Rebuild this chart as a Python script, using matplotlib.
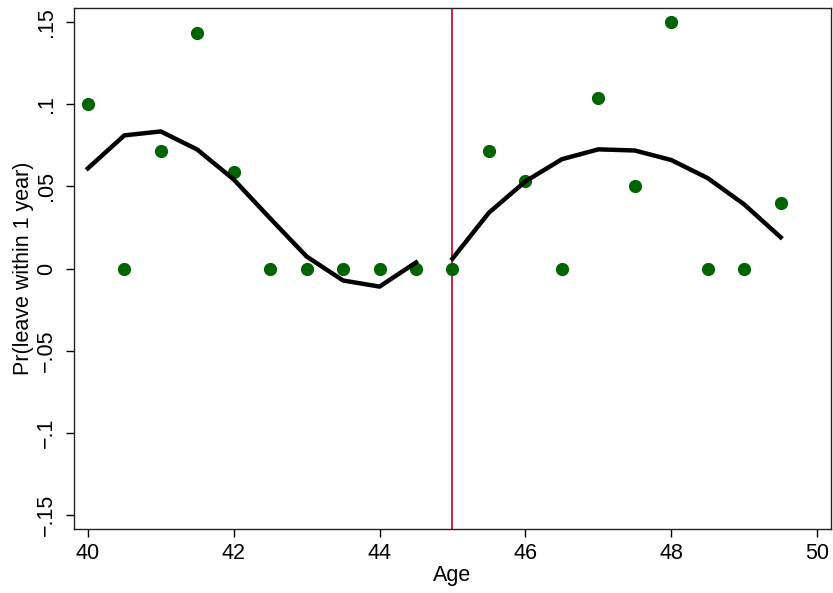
import numpy as np
import matplotlib.pyplot as plt

plt.rcParams['font.family'] = ['Liberation Sans', 'DejaVu Sans']

# binned means (dots)
age_bins = [40, 40.5, 41, 41.5, 42, 42.5, 43, 43.5, 44, 44.5,
            45, 45.5, 46, 46.5, 47, 47.5, 48, 48.5, 49, 49.5]
pr_leave = [0.1, 0.0, 0.0712, 0.143, 0.059, 0.0, 0.0, 0.0, 0.0, 0.0,
            0.0, 0.0712, 0.053, 0.0, 0.1035, 0.05, 0.15, 0.0, 0.0, 0.04]

# fitted curves on each side of the cutoff
fit_left_x = [40, 40.5, 41, 41.5, 42, 42.5, 43, 43.5, 44, 44.5]
fit_left_y = [0.0609, 0.081, 0.0834, 0.0724, 0.0542, 0.0305, 0.0073, -0.0073, -0.011, 0.0037]
fit_right_x = [45, 45.5, 46, 46.5, 47, 47.5, 48, 48.5, 49, 49.5]
fit_right_y = [0.006, 0.034, 0.053, 0.0665, 0.0725, 0.0718, 0.066, 0.055, 0.039, 0.019]

cutoff = 45
yticks = [-0.15, -0.1, -0.05, 0, 0.05, 0.1, 0.15]
ytick_labels = ['\u2212.15', '\u2212.1', '\u2212.05', '0', '.05', '.1', '.15']
xticks = [40, 42, 44, 46, 48, 50]

fig = plt.figure(figsize=(8.33, 5.93), dpi=100)
ax = fig.add_axes([0.0888, 0.1079, 0.9088, 0.8786])

ax.plot(age_bins, pr_leave, 'o', color='#006400', markersize=8.5, zorder=3)
ax.plot(fit_left_x, fit_left_y, color='black', lw=3.2, zorder=4)
ax.plot(fit_right_x, fit_right_y, color='black', lw=3.2, zorder=4)
ax.axvline(cutoff, color='#c8103c', lw=1.3, zorder=2)

ax.set_xlim(39.81, 50.19)
ax.set_ylim(-0.1585, 0.1585)
ax.set_xticks(xticks)
ax.set_yticks(yticks)
ax.set_yticklabels(ytick_labels, rotation=90, va='center')
ax.tick_params(direction='out', length=6, width=1, labelsize=15.5, pad=4)
ax.tick_params(axis='y', pad=6)

ax.set_xlabel('Age', fontsize=15.5, labelpad=1)
ax.set_ylabel('Pr(leave within 1 year)', fontsize=15.5, labelpad=2)

for s in ax.spines.values():
    s.set_linewidth(1.0)
    s.set_color('#222222')

fig.savefig('out.png', dpi=100)
